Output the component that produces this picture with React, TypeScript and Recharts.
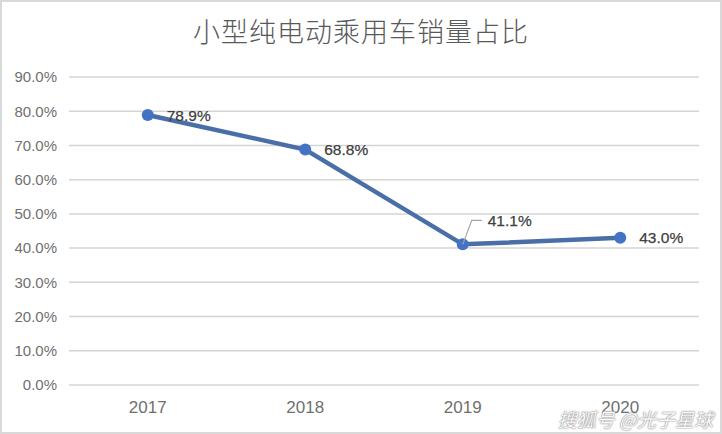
import React from "react";
import {
  LineChart,
  Line,
  XAxis,
  YAxis,
  CartesianGrid,
  LabelList,
} from "recharts";

const years = ["2017", "2018", "2019", "2020"];
const shares = [78.9, 68.8, 41.1, 43.0];
const yTicks = [0, 10, 20, 30, 40, 50, 60, 70, 80, 90];

const chartTitle = "小型纯电动乘用车销量占比";
const watermark = "搜狐号 @光子星球";

const chartData = years.map((year, i) => ({ year, share: shares[i] }));

const fontStack = "'Liberation Sans', 'Noto Sans CJK SC', sans-serif";

// data labels sit to the right of the point, 2019 is lifted with a leader line
const PointLabel = (props: any) => {
  const { x, y, value, index } = props;
  const lifted = index === 2;
  const textX = lifted ? x + 25 : x + 19;
  const textY = lifted ? y - 24 : y;
  return (
    <g>
      {lifted && (
        <polyline
          points={`${x},${y} ${x + 9},${y - 24} ${x + 19},${y - 24}`}
          fill="none"
          stroke="#a6a6a6"
          strokeWidth={1.2}
        />
      )}
      <text
        x={textX}
        y={textY}
        dy="0.36em"
        fontSize={15.5}
        fontFamily={fontStack}
        fontWeight={500}
        stroke="#404040"
        strokeWidth={0.25}
        fill="#404040"
      >
        {value.toFixed(1)}%
      </text>
    </g>
  );
};

export default function App() {
  return (
    <div
      style={{
        position: "absolute",
        left: 0,
        top: 0,
        width: 722,
        height: 434,
        boxSizing: "border-box",
        background: "#fff",
        border: "2px solid #d9d9d9",
        overflow: "hidden",
      }}
    >
      <div
        style={{
          position: "absolute",
          left: 0,
          right: 0,
          top: 9,
          textAlign: "center",
          fontSize: 27,
          fontFamily: "'Noto Sans CJK SC', sans-serif",
          fontWeight: 300,
          color: "#595959",
          letterSpacing: 1,
        }}
      >
        {chartTitle}
      </div>
      <LineChart
        width={718}
        height={430}
        data={chartData}
        margin={{ top: 75, right: 21, bottom: 17, left: 0 }}
      >
        <CartesianGrid vertical={false} stroke="#d4d4d4" strokeWidth={1.5} />
        <XAxis
          dataKey="year"
          scale="band"
          height={30}
          axisLine={false}
          tickLine={false}
          tickMargin={10}
          tick={{ fontSize: 17, fontFamily: fontStack, fill: "#707070" }}
        />
        <YAxis
          domain={[0, 90]}
          ticks={yTicks}
          width={67}
          axisLine={false}
          tickLine={false}
          tickMargin={6}
          tickFormatter={(v: number) => `${v.toFixed(1)}%`}
          tick={{ fontSize: 15, fontFamily: fontStack, fill: "#707070" }}
        />
        <Line
          type="linear"
          dataKey="share"
          stroke="#4a6fa8"
          strokeWidth={4.5}
          dot={{ r: 6, fill: "#4472c4", stroke: "#4472c4", strokeWidth: 0 }}
          isAnimationActive={false}
        >
          <LabelList dataKey="share" content={PointLabel} />
        </Line>
      </LineChart>
      <div
        style={{
          position: "absolute",
          right: 7,
          bottom: 0,
          fontSize: 19,
          lineHeight: "26px",
          fontStyle: "italic",
          fontFamily: "'Noto Sans CJK SC', sans-serif",
          color: "rgba(255,255,255,0.95)",
          textShadow: "0 0 2px #888, 0 0 1px #888",
        }}
      >
        {watermark}
      </div>
    </div>
  );
}
